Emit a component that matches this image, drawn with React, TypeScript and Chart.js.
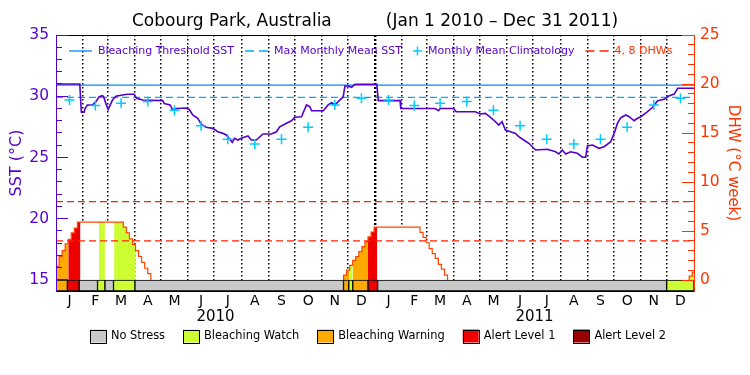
import React, { useEffect, useRef } from 'react';
import { Chart, registerables } from 'chart.js';

Chart.register(...registerables);

const FONT = 'DejaVu Sans';

// ---- Data ----
const titleText = 'Cobourg Park, Australia          (Jan 1 2010 \u2013 Dec 31 2011)';
const yearLabels = ['2010', '2011'];
const monthLetters = ['J', 'F', 'M', 'A', 'M', 'J', 'J', 'A', 'S', 'O', 'N', 'D'];
const monthDays = [31, 28, 31, 30, 31, 30, 31, 31, 30, 31, 30, 31];

// daily SST (°C), day 0 = Jan 1 2010
const sstDay = [
  0, 27.2, 29, 32.1, 33.3, 35.9, 41.7, 45.6, 49.4, 53.1, 54.5, 57, 59.7, 64.6, 68.5, 76.1, 81.8, 89.5, 92.2, 99.1,
  122, 124, 130.5, 133.5, 137.4, 148.9, 152.7, 156.4, 162.2, 166.1, 171.8, 179.4, 185.1, 190.9, 194.8, 201.7, 204.3,
  208.1, 212, 219.6, 223.5, 229.2, 236.8, 246.4, 252.2, 256, 263.7, 269.4, 273.2, 280.9, 286.6, 290.4, 292.4, 305.7,
  311.4, 315.3, 319.1, 322.9, 328.6, 330.6, 334.4, 338.3, 342, 367, 368.8, 393.7, 394.5, 433.9, 437.7, 439.6, 454.9,
  458, 479.8, 485.5, 491.3, 495.1, 500.8, 506.6, 510.4, 514.2, 520, 525.7, 529.5, 535.2, 541, 548.7, 562.1, 571.6,
  575.4, 579.3, 583.1, 588.8, 596.5, 602.3, 606.1, 608, 613.8, 621.3, 627.1, 634.8, 638.6, 642.5, 646.3, 652, 655.8,
  661.5, 665.4, 669.2, 676.9, 682.6, 688.4, 695.9, 701, 707.4, 711.3, 730,
];
const sstValue = [
  31.0, 31.0, 28.69, 28.69, 29.0, 29.29, 29.29, 29.56, 29.96, 30.05, 29.96, 29.42, 28.93, 29.69, 30.0, 30.1, 30.16, 30.16, 29.83, 29.69,
  29.64, 29.4, 29.29, 28.88, 29.0, 29.04, 28.9, 28.47, 28.2, 27.73, 27.47, 27.38, 27.1, 26.97, 26.84, 26.24, 26.57,
  26.43, 26.57, 26.76, 26.43, 26.43, 26.92, 26.92, 27.1, 27.51, 27.8, 28.0, 28.28, 28.33, 29.29, 29.15, 28.82, 28.82,
  29.29, 29.47, 29.29, 29.56, 29.96, 30.84, 30.84, 30.73, 30.98, 30.98, 29.64, 29.64, 29.0, 29.0, 28.82, 29.0, 29.0,
  28.74, 28.74, 28.55, 28.6, 28.39, 28.06, 27.65, 27.92, 27.24, 27.1, 26.97, 26.7, 26.43, 26.16, 25.61, 25.67, 25.47,
  25.29, 25.61, 25.29, 25.47, 25.34, 25.02, 25.02, 25.94, 26.02, 25.75, 25.88, 26.29, 26.97, 27.8, 28.25, 28.47, 28.33,
  28.0, 28.2, 28.33, 28.74, 29.1, 29.64, 29.75, 30.02, 30.18, 30.65, 30.65,
];

const climatology = [29.7, 29.25, 29.42, 29.58, 28.85, 27.6, 26.48, 26.1, 26.48, 27.46, 29.29, 29.83];
const bleachingThreshold = 30.9;
const maxMonthlyMean = 29.9;
const dhwLevels = [4, 8];

// DHW, twice-weekly composites (3.5 day steps)
const dhwStep = 3.5;
const dhwPeriodStart = [0, 329, 724.5];
const dhwPeriod1 = [
  1.4, 2.4, 3.0, 3.7, 4.15, 4.8, 5.3, 5.9, 5.9, 5.9, 5.9, 5.9, 5.9, 5.9, 5.9, 5.9, 5.9, 5.9, 5.9, 5.9, 5.9, 5.9,
  5.4, 4.8, 4.2, 3.6, 3.0, 2.4, 1.8, 1.2, 0.65,
];
const dhwPeriod2 = [
  0.5, 1.0, 1.5, 2.0, 2.4, 2.9, 3.4, 3.9, 4.4, 4.9, 5.4, 5.4, 5.4, 5.4, 5.4, 5.4, 5.4, 5.4, 5.4, 5.4, 5.4, 5.4, 5.4,
  5.4, 5.4, 4.85, 4.35, 3.8, 3.2, 2.7, 2.2, 1.6, 1.1, 0.5,
];
const dhwPeriod3 = [0.4, 0.8];

// Stress status (0 none, 1 watch, 2 warning, 3 alert 1, 4 alert 2)
const statusStart = [0, 13, 26.5, 47.5, 56, 65.8, 90.3, 329, 335, 339.6, 357, 368, 698.7];
const statusEnd = [13, 26.5, 47.5, 56, 65.8, 90.3, 329, 335, 339.6, 357, 368, 698.7, 730];
const statusLevel = [2, 3, 0, 1, 0, 1, 0, 2, 1, 2, 3, 0, 1];
const statusNames = ['No Stress', 'Bleaching Watch', 'Bleaching Warning', 'Alert Level 1', 'Alert Level 2'];

// ---- Styles ----
const statusColors = ['#c8c8c8', '#ccff33', '#ffaa00', '#ee0000', '#990000'];
const PURPLE = '#5500cc';
const RED_AXIS = '#ff3300';
const SST_MIN = 14.102;
const SST_MAX = 35;
const DHW_MIN = -1.1224;
const DHW_MAX = 25;

const topLegendPlugin = {
  id: 'topLegend',
  afterDraw(chart: any) {
    const { ctx, chartArea } = chart;
    const items = chart.data.datasets.filter((d: any) => d.topLegend);
    ctx.save();
    ctx.font = `11px "${FONT}"`;
    ctx.textBaseline = 'middle';
    ctx.textAlign = 'left';
    let x = chartArea.left + 13;
    const y = chartArea.top + 16;
    for (const ds of items) {
      if (ds.showLine === false) {
        ctx.strokeStyle = ds.pointBorderColor;
        ctx.lineWidth = ds.pointBorderWidth;
        ctx.setLineDash([]);
        ctx.beginPath();
        ctx.moveTo(x, y);
        ctx.lineTo(x + 9, y);
        ctx.moveTo(x + 4.5, y - 4.5);
        ctx.lineTo(x + 4.5, y + 4.5);
        ctx.stroke();
        x += 15;
      } else {
        ctx.strokeStyle = ds.borderColor;
        ctx.lineWidth = ds.borderWidth;
        ctx.setLineDash(ds.borderDash && ds.borderDash.length ? [9, 5] : []);
        ctx.beginPath();
        ctx.moveTo(x, y);
        ctx.lineTo(x + 23, y);
        ctx.stroke();
        x += 29;
      }
      ctx.fillStyle = ds.legendTextColor;
      ctx.fillText(ds.label, x, y);
      x += ctx.measureText(ds.label).width + 11;
    }
    ctx.restore();
  },
};

const statusLegendPlugin = {
  id: 'statusLegend',
  afterDraw(chart: any) {
    const { ctx, chartArea } = chart;
    const boxW = 16, boxH = 13, boxGap = 5, itemGap = 18;
    ctx.save();
    ctx.font = `11.4px "${FONT}"`;
    ctx.textBaseline = 'middle';
    ctx.textAlign = 'left';
    const widths = statusNames.map((t) => ctx.measureText(t).width);
    const total = widths.reduce((a, w) => a + w + boxW + boxGap, 0) + itemGap * (statusNames.length - 1);
    let x = (chartArea.left + chartArea.right) / 2 - total / 2 + 3;
    const y = chartArea.bottom + 45;
    statusNames.forEach((t, i) => {
      ctx.fillStyle = statusColors[i];
      ctx.fillRect(x, y - boxH / 2, boxW, boxH);
      ctx.strokeStyle = '#000';
      ctx.lineWidth = 1;
      ctx.strokeRect(Math.round(x) + 0.5, Math.round(y - boxH / 2) + 0.5, boxW, boxH);
      x += boxW + boxGap;
      ctx.fillStyle = '#000';
      ctx.fillText(t, x, y);
      x += widths[i] + itemGap;
    });
    ctx.restore();
  },
};

export default function App() {
  const ref = useRef<HTMLCanvasElement>(null);

  useEffect(() => {
    const canvas = ref.current;
    if (!canvas) return;
    Chart.defaults.font.family = FONT;

    const monthStarts: number[] = [];
    let acc = 0;
    for (let y = 0; y < yearLabels.length; y++) {
      for (const n of monthDays) {
        monthStarts.push(acc);
        acc += n;
      }
    }
    const totalDays = acc;
    const monthMids = monthStarts.map((s, i) => (s + (i + 1 < monthStarts.length ? monthStarts[i + 1] : totalDays)) / 2);
    const yearMids = yearLabels.map((_, i) => (i * totalDays) / yearLabels.length + totalDays / yearLabels.length / 2);

    const statusAt = (day: number) => {
      for (let i = 0; i < statusStart.length; i++) {
        if (day >= statusStart[i] && day < statusEnd[i]) return statusLevel[i];
      }
      return 0;
    };
    const fillColorOf = (lvl: number) => (lvl === 0 ? '#ffffff' : statusColors[lvl]);

    const periods = [dhwPeriod1, dhwPeriod2, dhwPeriod3];
    const dhwOutline: { x: number; y: number | null }[] = [];
    const fillRuns: { color: string; pts: { x: number; y: number }[] }[] = [];
    periods.forEach((vals, p) => {
      const start = dhwPeriodStart[p];
      dhwOutline.push({ x: start, y: 0 });
      let run: { color: string; pts: { x: number; y: number }[] } | null = null;
      vals.forEach((v, k) => {
        const s = start + k * dhwStep;
        const color = fillColorOf(statusAt(s + dhwStep / 2));
        if (!run || run.color !== color) {
          if (run) run.pts.push({ x: s, y: run.pts[run.pts.length - 1].y });
          run = { color, pts: [] };
          fillRuns.push(run);
        }
        run.pts.push({ x: s, y: v });
        dhwOutline.push({ x: s, y: v });
      });
      const end = start + vals.length * dhwStep;
      if (run) (run as any).pts.push({ x: end, y: vals[vals.length - 1] });
      dhwOutline.push({ x: end, y: 0 });
      dhwOutline.push({ x: end, y: null });
    });

    const climPoints = monthMids.map((m, i) => ({ x: m, y: climatology[i % 12] }));
    const dhwLinePoints: { x: number; y: number | null }[] = [];
    dhwLevels.forEach((lv) => {
      dhwLinePoints.push({ x: 0, y: lv }, { x: totalDays, y: lv }, { x: totalDays, y: null });
    });

    const statusBars = statusStart.map((s, i) => ({ x: [s, statusEnd[i]], y: DHW_MIN / 2 }));
    const statusBarColors = statusLevel.map((l) => statusColors[l]);

    const datasets: any[] = [
      {
        type: 'line', label: 'Bleaching Threshold SST', topLegend: true, legendTextColor: PURPLE,
        data: [{ x: 0, y: bleachingThreshold }, { x: totalDays, y: bleachingThreshold }],
        borderColor: '#0088ff', borderWidth: 1.3, pointRadius: 0, xAxisID: 'x', yAxisID: 'y', order: 5,
      },
      {
        type: 'line', label: 'Max Monthly Mean SST', topLegend: true, legendTextColor: PURPLE,
        data: [{ x: 0, y: maxMonthlyMean }, { x: totalDays, y: maxMonthlyMean }],
        borderColor: '#00aaff', borderWidth: 1.3, borderDash: [7, 4], pointRadius: 0, xAxisID: 'x', yAxisID: 'y', order: 4,
      },
      {
        type: 'line', label: 'Monthly Mean Climatology', topLegend: true, legendTextColor: PURPLE,
        data: climPoints, showLine: false, pointStyle: 'cross', pointRadius: 5,
        pointBorderColor: '#00ccff', pointBorderWidth: 1.5, xAxisID: 'x', yAxisID: 'y', order: 2,
      },
      {
        type: 'line', label: '4, 8 DHWs', topLegend: true, legendTextColor: RED_AXIS,
        data: dhwLinePoints, borderColor: '#ff2200', borderWidth: 1.3, borderDash: [7, 4], pointRadius: 0,
        spanGaps: false, xAxisID: 'x', yAxisID: 'yR', order: 6,
      },
      {
        type: 'line', label: 'SST', data: sstDay.map((d, i) => ({ x: d, y: sstValue[i] })),
        borderColor: PURPLE, borderWidth: 1.6, pointRadius: 0, tension: 0, xAxisID: 'x', yAxisID: 'y', order: 3,
      },
      {
        type: 'line', label: 'DHW outline', data: dhwOutline, stepped: 'before', borderColor: '#ff4400',
        borderWidth: 1.2, pointRadius: 0, spanGaps: false, xAxisID: 'x', yAxisID: 'yR', order: 9,
      },
      ...fillRuns.map((r) => ({
        type: 'line', label: 'DHW fill', data: r.pts, stepped: 'before', fill: 'origin',
        backgroundColor: r.color, borderColor: 'rgba(0,0,0,0)', borderWidth: 0, pointRadius: 0,
        xAxisID: 'x', yAxisID: 'yR', order: 10,
      })),
      {
        type: 'bar', label: 'Status', indexAxis: 'y', data: statusBars, backgroundColor: statusBarColors,
        borderColor: '#000000', borderWidth: 1, borderSkipped: false, barThickness: 11, maxBarThickness: 11,
        grouped: false, xAxisID: 'xS', yAxisID: 'yS', order: 7,
      },
    ];

    const chart = new Chart(canvas, {
      type: 'line',
      data: { datasets },
      plugins: [topLegendPlugin, statusLegendPlugin],
      options: {
        responsive: false,
        animation: false,
        events: [],
        layout: { padding: { left: 0, right: 0, top: 0, bottom: 49 } },
        plugins: {
          tooltip: { enabled: false },
          legend: { display: false },
          filler: { propagate: false },
          title: {
            display: true, text: titleText, color: '#000',
            font: { family: FONT, size: 17, weight: 'normal' }, padding: { top: 11, bottom: 3.6 },
          },
        },
        scales: {
          x: {
            type: 'linear', position: 'bottom', min: 0, max: totalDays, weight: 0, offset: false,
            afterBuildTicks: (s: any) => { s.ticks = monthStarts.filter((v) => v > 0).map((v) => ({ value: v })); },
            ticks: { display: false },
            grid: {
              display: true, drawTicks: false, offset: false, color: '#000',
              lineWidth: (c: any) => (c.tick && c.tick.value === 365 ? 2.4 : 1.5),
            },
            border: {
              display: true, color: '#000', width: 1, z: 1,
              dash: (c: any) => (c.tick && c.tick.value === 365 ? [2, 2] : [1.5, 2.5]),
            },
            afterFit: (s: any) => { s.height = 0; },
          },
          xm: {
            type: 'linear', position: 'bottom', min: 0, max: totalDays, weight: 1, offset: false,
            afterBuildTicks: (s: any) => { s.ticks = monthMids.map((v) => ({ value: v })); },
            ticks: {
              autoSkip: false, maxRotation: 0, minRotation: 0, color: '#000', font: { family: FONT, size: 14 },
              padding: 2, callback: (_v: any, i: number) => monthLetters[i % 12],
            },
            grid: { display: false, drawTicks: false },
            border: { display: false },
            afterFit: (s: any) => { s.height = 17; },
          },
          xy: {
            type: 'linear', position: 'bottom', min: 0, max: totalDays, weight: 2, offset: false,
            afterBuildTicks: (s: any) => { s.ticks = yearMids.map((v) => ({ value: v })); },
            ticks: {
              autoSkip: false, maxRotation: 0, minRotation: 0, color: '#000', font: { family: FONT, size: 15 },
              padding: 0, callback: (_v: any, i: number) => yearLabels[i],
            },
            grid: { display: false, drawTicks: false },
            border: { display: false },
            afterFit: (s: any) => { s.height = 18; },
          },
          xTop: {
            type: 'linear', position: 'top', min: 0, max: totalDays, offset: false,
            afterBuildTicks: (s: any) => { s.ticks = []; },
            ticks: { display: false },
            grid: { display: false, drawTicks: false },
            border: { display: true, color: '#000', width: 1, z: 1 },
            afterFit: (s: any) => { s.height = 0; },
          },
          xS: { type: 'linear', display: false, min: 0, max: totalDays, offset: false },
          yS: { type: 'linear', display: false, min: DHW_MIN, max: DHW_MAX, offset: false },
          y: {
            type: 'linear', position: 'left', min: SST_MIN, max: SST_MAX, weight: 1, offset: false,
            afterBuildTicks: (s: any) => { s.ticks = [15, 20, 25, 30, 35].map((v) => ({ value: v })); },
            ticks: { color: PURPLE, font: { family: FONT, size: 15.5 }, padding: 19, callback: (v: any) => String(v) },
            grid: { display: true, drawOnChartArea: false, drawTicks: true, tickLength: -12, tickColor: PURPLE, tickWidth: 1, z: 1 },
            border: { display: true, color: PURPLE, width: 1, z: 1 },
            title: { display: true, text: 'SST (\u00B0C)', color: PURPLE, font: { family: FONT, size: 16 }, padding: { top: 7, bottom: 0 } },
            afterFit: (s: any) => { s.width = 56; },
          },
          yMinor: {
            type: 'linear', position: 'left', min: SST_MIN, max: SST_MAX, weight: 0, offset: false,
            afterBuildTicks: (s: any) => {
              const t = [];
              for (let v = 15; v <= 35; v++) t.push({ value: v });
              s.ticks = t;
            },
            ticks: { display: false },
            grid: { display: true, drawOnChartArea: false, drawTicks: true, tickLength: -6, tickColor: PURPLE, tickWidth: 1, z: 1 },
            border: { display: false },
            afterFit: (s: any) => { s.width = 0; },
          },
          yR: {
            type: 'linear', position: 'right', min: DHW_MIN, max: DHW_MAX, weight: 1, offset: false,
            afterBuildTicks: (s: any) => { s.ticks = [0, 5, 10, 15, 20, 25].map((v) => ({ value: v })); },
            ticks: { color: RED_AXIS, font: { family: FONT, size: 15.5 }, padding: 18, callback: (v: any) => String(v) },
            grid: { display: true, drawOnChartArea: false, drawTicks: true, tickLength: -12, tickColor: RED_AXIS, tickWidth: 1, z: 1 },
            border: { display: true, color: RED_AXIS, width: 1, z: 1 },
            title: { display: true, text: 'DHW (\u00B0C week)', color: RED_AXIS, font: { family: FONT, size: 15 }, padding: { top: 8, bottom: 0 } },
            afterFit: (s: any) => { s.width = 56; },
          },
          yRMinor: {
            type: 'linear', position: 'right', min: DHW_MIN, max: DHW_MAX, weight: 0, offset: false,
            afterBuildTicks: (s: any) => {
              const t = [];
              for (let v = 0; v <= 25; v++) t.push({ value: v });
              s.ticks = t;
            },
            ticks: { display: false },
            grid: { display: true, drawOnChartArea: false, drawTicks: true, tickLength: -6, tickColor: RED_AXIS, tickWidth: 1, z: 1 },
            border: { display: false },
            afterFit: (s: any) => { s.width = 0; },
          },
        },
      } as any,
    });

    return () => chart.destroy();
  }, []);

  return (
    <div style={{ position: 'absolute', left: 0, top: 0, width: 750, height: 375, background: '#ffffff' }}>
      <canvas ref={ref} width={750} height={375} style={{ display: 'block' }} />
    </div>
  );
}
